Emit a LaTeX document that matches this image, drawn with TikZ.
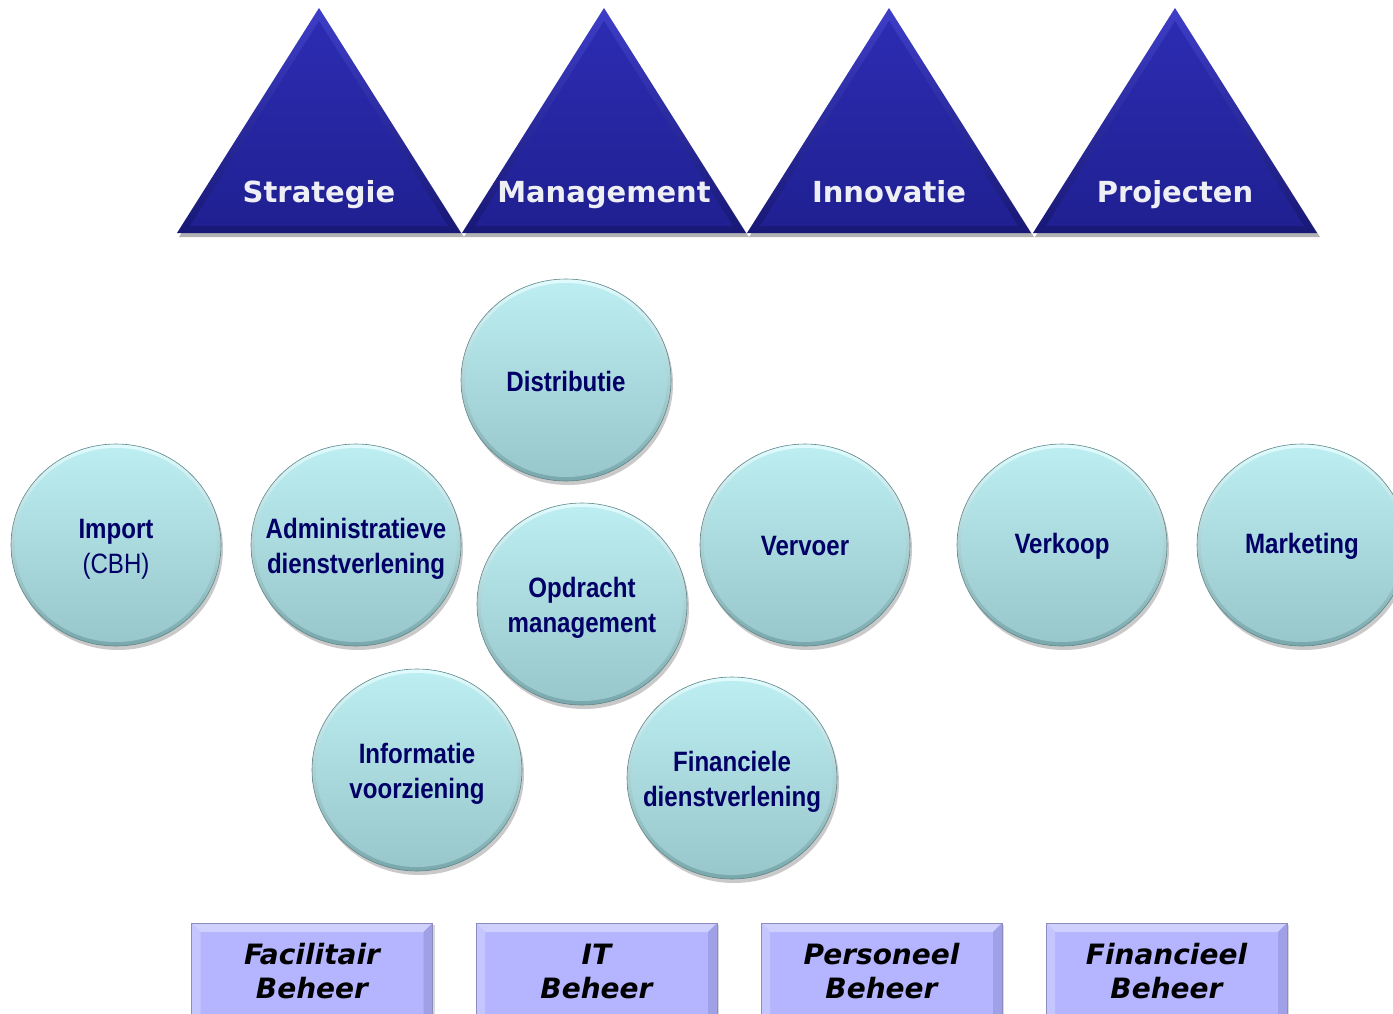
\documentclass[tikz,border=0pt]{standalone}
\usepackage{fontspec}
\usetikzlibrary{shapes.geometric,shadows}
\newfontfamily\trifont{DejaVu Sans}
\newfontfamily\boxfont{DejaVu Sans}
\newfontfamily\circfont[FakeStretch=0.86]{Liberation Sans}
\definecolor{triLight}{RGB}{62,62,200}
\definecolor{triDark}{RGB}{24,24,118}
\definecolor{triInTop}{RGB}{44,44,178}
\definecolor{triInBot}{RGB}{32,32,146}
\definecolor{triText}{RGB}{238,238,245}
\definecolor{bubRimTop}{RGB}{225,252,254}
\definecolor{bubRimBot}{RGB}{120,168,172}
\definecolor{bubTop}{RGB}{188,238,242}
\definecolor{bubBot}{RGB}{152,198,202}
\definecolor{navy}{RGB}{0,0,102}
\definecolor{boxLight}{RGB}{208,208,255}
\definecolor{boxFill}{RGB}{180,180,255}
\definecolor{boxDark}{RGB}{160,160,230}
\definecolor{boxEdge}{RGB}{140,140,190}
\tikzset{
  trilabel/.style={font=\trifont\bfseries\fontsize{29}{34}\selectfont, text=triText, inner sep=0pt, anchor=base},
  bubble/.style={ellipse, minimum width=210pt, minimum height=202pt, inner sep=0pt, outer sep=0pt,
    shade, top color=bubRimTop, bottom color=bubRimBot, draw=bubRimBot!80!black, line width=0.6pt,
    drop shadow={shadow xshift=2pt, shadow yshift=-4pt, opacity=0.35, fill=black!60},
    path picture={\shade[top color=bubTop, bottom color=bubBot] (path picture bounding box.center) ellipse [x radius=101pt, y radius=97pt];}},
  bubtext/.style={align=center, text=navy, inner sep=0pt, font=\circfont\bfseries\fontsize{28}{35}\selectfont},
  beheer/.style={rectangle, minimum width=241pt, minimum height=94pt, inner sep=0pt, outer sep=0pt,
    fill=boxFill, draw=boxEdge, line width=0.8pt,
    drop shadow={shadow xshift=2pt, shadow yshift=-2pt, opacity=0.3, fill=black!50},
    path picture={
      \fill[boxLight] (path picture bounding box.north west) -- (path picture bounding box.north east)
        -- ([xshift=-9pt,yshift=-9pt]path picture bounding box.north east) -- ([xshift=9pt,yshift=-9pt]path picture bounding box.north west) -- cycle;
      \fill[boxLight!60!boxFill] (path picture bounding box.north west) -- ([xshift=9pt,yshift=-9pt]path picture bounding box.north west)
        -- ([xshift=9pt]path picture bounding box.south west) -- (path picture bounding box.south west) -- cycle;
      \fill[boxDark] (path picture bounding box.north east) -- ([xshift=-9pt,yshift=-9pt]path picture bounding box.north east)
        -- ([xshift=-9pt]path picture bounding box.south east) -- (path picture bounding box.south east) -- cycle;
    }},
  behtext/.style={align=center, text=black, inner sep=0pt, font=\boxfont\bfseries\itshape\fontsize{28}{34}\selectfont}
}
\newcommand{\bubnode}[5]{%
  \node[bubble] (#1) at (#2,#3) {};
  \node[bubtext] (#1-text) at ([yshift=#5]#1.center) {#4};
}
\begin{document}
\begin{tikzpicture}[x=1pt,y=-1pt]
\useasboundingbox (0,0) rectangle (1393,1013);
\fill[white] (0,0) rectangle (1393,1013);
% triangles
\foreach \ax/\nm/\lab in {319/t1/Strategie, 604/t2/Management, 889/t3/Innovatie, 1175/t4/Projecten}{
  \fill[black, opacity=0.3] (\ax+2,12) -- (\ax+145,237) -- (\ax-140,237) -- cycle;
  \shade[top color=triLight, bottom color=triDark] (\ax,8) -- (\ax+142,233) -- (\ax-142,233) -- cycle;
  \shade[top color=triInTop, bottom color=triInBot] (\ax,21) -- (\ax+129,226) -- (\ax-129,226) -- cycle;
  \node[trilabel] (\nm) at (\ax,202) {\lab};
}
% bubbles
\bubnode{import}{116}{545}{Import\\{\mdseries (CBH)}}{-4pt}
\bubnode{admin}{356}{545}{Administratieve\\dienstverlening}{-4pt}
\bubnode{distr}{566}{380}{Distributie}{-1pt}
\bubnode{opdr}{582}{604}{Opdracht\\management}{-4pt}
\bubnode{vervoer}{805}{545}{Vervoer}{-1pt}
\bubnode{verkoop}{1062}{545}{Verkoop}{-1pt}
\bubnode{marketing}{1302}{545}{Marketing}{-1pt}
\bubnode{info}{417}{770}{Informatie\\voorziening}{-4pt}
\bubnode{fin}{732}{778}{Financiele\\dienstverlening}{-4pt}
% boxes
\foreach \nm/\bx/\lab in {fac/312/{Facilitair\\Beheer}, it/596.5/{IT\\Beheer}, pers/881.5/{Personeel\\Beheer}, finb/1166.5/{Financieel\\Beheer}}{
  \node[beheer] (\nm) at (\bx,970) {};
  \node[behtext] (\nm-text) at ([yshift=-1pt]\nm.center) {\lab};
}
\end{tikzpicture}
\end{document}
